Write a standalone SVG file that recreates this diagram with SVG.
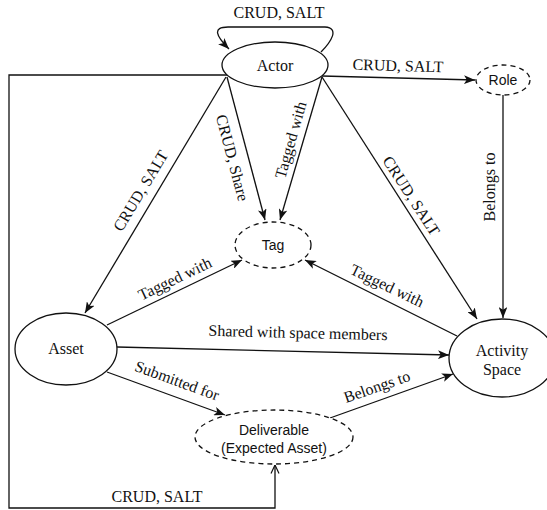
<svg xmlns="http://www.w3.org/2000/svg" width="547" height="510" viewBox="0 0 547 510">
<style>
.n{fill:#fff;stroke:#111;stroke-width:1.3}
.d{fill:#fff;stroke:#111;stroke-width:1.3;stroke-dasharray:5 4}
.ser{font-family:"Liberation Serif","Times New Roman",serif;font-size:16px;fill:#111;text-anchor:middle}
.san{font-family:"Liberation Sans",Arial,sans-serif;font-size:14px;fill:#111;text-anchor:middle}
.e{fill:none;stroke:#111;stroke-width:1.3}
.a{marker-end:url(#arr)}
.lbl{font-family:"Liberation Serif","Times New Roman",serif;font-size:16px;fill:#111;text-anchor:middle}
</style>
<defs>
<marker id="arr" viewBox="0 0 10 8" refX="10" refY="4" markerWidth="11" markerHeight="8.8" markerUnits="userSpaceOnUse" orient="auto"><path d="M0,0 L10,4 L0,8 L2.5,4 Z" fill="#111"/></marker>
<marker id="open" viewBox="0 0 10 10" refX="9.5" refY="5" markerWidth="10" markerHeight="10" markerUnits="userSpaceOnUse" orient="auto"><path d="M1,1 L9.5,5 L1,9" fill="none" stroke="#111" stroke-width="1.2"/></marker>
</defs>
<g id="connectors">
<path class="e a" d="M321,52 C331,42 340,28 325,27 L228,27 C212,27 216,36 229,49"/>
<line class="e a" x1="322" y1="76" x2="475" y2="80"/>
<line class="e a" x1="226" y1="77" x2="85" y2="313"/>
<line class="e a" x1="227" y1="77" x2="265" y2="220"/>
<line class="e a" x1="322" y1="77" x2="280" y2="220"/>
<line class="e a" x1="322" y1="77" x2="477" y2="319"/>
<line class="e a" x1="503" y1="95" x2="503" y2="318"/>
<line class="e a" x1="107" y1="325" x2="242" y2="260"/>
<line class="e a" x1="457" y1="336" x2="305" y2="260"/>
<line class="e a" x1="117" y1="347" x2="449" y2="355"/>
<line class="e a" x1="107" y1="372" x2="225" y2="415"/>
<line class="e a" x1="330" y1="418" x2="453" y2="374"/>
<path class="e" d="M227,75 L9,75 L9,508 L275,508 L275,465" marker-end="url(#open)"/>
<text class="lbl" x="279" y="18">CRUD, SALT</text>
<text class="lbl" transform="translate(398,66) rotate(1.5)" y="5">CRUD, SALT</text>
<text class="lbl" transform="translate(141,191) rotate(-59)" y="5">CRUD, SALT</text>
<text class="lbl" transform="translate(232,158) rotate(75)" y="5">CRUD, Share</text>
<text class="lbl" transform="translate(291,140) rotate(-74)" y="5">Tagged with</text>
<text class="lbl" transform="translate(411,196) rotate(57)" y="5">CRUD, SALT</text>
<text class="lbl" transform="translate(490,187) rotate(-90)" y="5">Belongs to</text>
<text class="lbl" transform="translate(175,279) rotate(-25.7)" y="5">Tagged with</text>
<text class="lbl" transform="translate(387,286) rotate(25.6)" y="5">Tagged with</text>
<text class="lbl" transform="translate(298,333) rotate(1.4)" y="5">Shared with space members</text>
<text class="lbl" transform="translate(177,381) rotate(20)" y="5">Submitted for</text>
<text class="lbl" transform="translate(377,387) rotate(-19)" y="5">Belongs to</text>
<text class="lbl" x="157" y="502">CRUD, SALT</text>
</g>
<g id="actor"><ellipse class="n" cx="275" cy="65" rx="53" ry="23"/><text class="ser" x="275" y="71">Actor</text></g>
<g id="role"><ellipse class="d" cx="503" cy="80" rx="27" ry="15"/><text class="san" x="503" y="85">Role</text></g>
<g id="tag"><ellipse class="d" cx="273" cy="245" rx="38" ry="23"/><text class="san" x="273" y="250">Tag</text></g>
<g id="asset"><ellipse class="n" cx="66" cy="349" rx="51" ry="36"/><text class="ser" x="66" y="354">Asset</text></g>
<g id="activity-space"><ellipse class="n" cx="502" cy="358" rx="53" ry="39"/><text class="ser" x="502" y="356">Activity</text><text class="ser" x="502" y="375">Space</text></g>
<g id="deliverable"><ellipse class="d" cx="274" cy="437" rx="79" ry="27"/><text class="san" x="274" y="435">Deliverable</text><text class="san" x="274" y="453">(Expected Asset)</text></g>
</svg>
